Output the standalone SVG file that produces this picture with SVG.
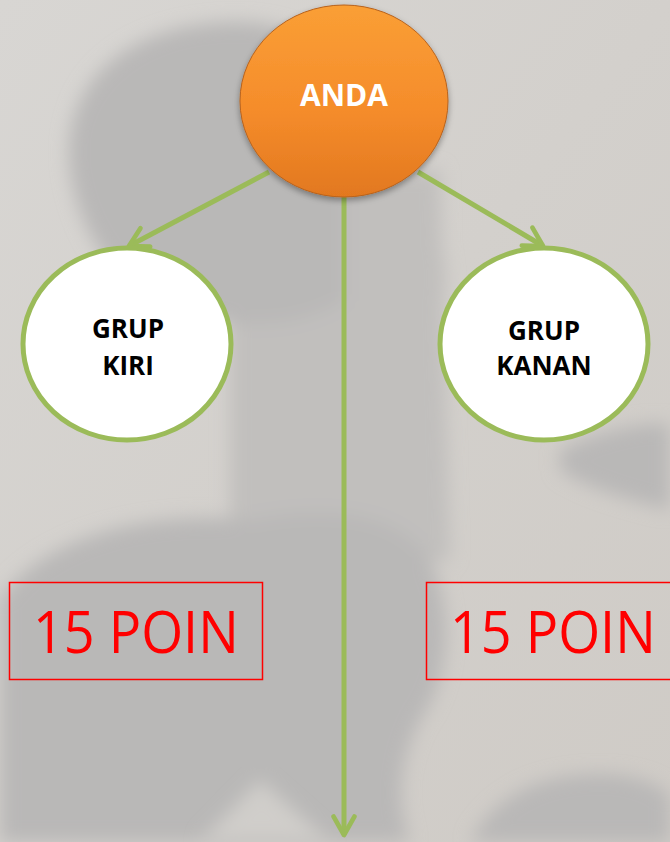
<svg xmlns="http://www.w3.org/2000/svg" width="670" height="842" viewBox="0 0 670 842">
  <defs>
    <linearGradient id="bg" x1="0" y1="0" x2="1" y2="1">
      <stop offset="0" stop-color="#d8d6d3"/>
      <stop offset="0.5" stop-color="#d3d0cc"/>
      <stop offset="1" stop-color="#cfcbc6"/>
    </linearGradient>
    <linearGradient id="orange" x1="0" y1="0" x2="0" y2="1">
      <stop offset="0" stop-color="#fa9f35"/>
      <stop offset="0.55" stop-color="#f58c2b"/>
      <stop offset="1" stop-color="#e2781f"/>
    </linearGradient>
    <filter id="blur" x="-20%" y="-20%" width="140%" height="140%">
      <feGaussianBlur stdDeviation="9"/>
    </filter>
    <filter id="shadow" x="-20%" y="-20%" width="140%" height="140%">
      <feDropShadow dx="0" dy="3" stdDeviation="3" flood-color="#000" flood-opacity="0.35"/>
    </filter>
    <marker id="arrow" viewBox="0 0 10 10" refX="8.6" refY="5" markerWidth="5.2" markerHeight="5.2" orient="auto" markerUnits="strokeWidth">
      <path d="M1.5,1 L8.6,5 L1.5,9" fill="none" stroke="#9bbb59" stroke-width="1.8" stroke-linecap="round" stroke-linejoin="round"/>
    </marker>
    <style>
      .conn { stroke: #9bbb59; stroke-width: 5; fill: none; marker-end: url(#arrow); }
      .grp { fill: #ffffff; stroke: #9bbb59; stroke-width: 5; }
      .grptext { font-family: "Open Sans", "Liberation Sans", sans-serif; font-weight: bold; font-size: 26px; fill: #000000; text-anchor: middle; }
      .box { fill: none; stroke: #ff0000; stroke-width: 1.5; }
      .poin { font-family: "Open Sans", "Liberation Sans", sans-serif; font-size: 58px; fill: #ff0000; }
      .sil { fill: #b9b8b7; }
      .mid { fill: #c1bfbd; }
    </style>
  </defs>

  <!-- background photo approximation -->
  <rect x="0" y="0" width="670" height="842" fill="url(#bg)"/>
  <g filter="url(#blur)">
    <path class="mid" d="M230,180 L440,170 L450,560 L230,560 Z"/>
    <path class="sil" d="M70,170 C60,80 130,25 230,22 C300,20 340,50 345,110 L345,300 C300,330 230,330 180,310 C120,290 80,240 70,170 Z"/>
    <path class="mid" d="M380,200 C420,190 450,230 445,290 C440,350 420,400 440,430 L380,430 Z"/>
    <path class="sil" d="M0,600 C40,540 140,510 250,520 C320,505 400,510 430,560 C455,610 450,680 420,720 C400,760 395,800 410,842 L0,842 Z"/>
    <path class="sil" d="M560,450 C600,430 650,420 670,425 L670,510 C630,500 590,490 560,470 Z"/>
    <path class="sil" d="M470,842 C500,785 560,770 620,775 C650,780 670,790 670,800 L670,842 Z"/>
  </g>
  <path d="M200,842 L260,780 L330,842 Z" fill="#d0ceca" filter="url(#blur)"/>

  <!-- connectors -->
  <g id="connectors">
    <line class="conn" x1="269" y1="172" x2="129" y2="246"/>
    <line class="conn" x1="418" y1="172" x2="543" y2="246"/>
    <line class="conn" x1="344" y1="196" x2="344" y2="835"/>
  </g>

  <!-- ANDA node -->
  <g id="node-anda">
    <ellipse cx="344" cy="101" rx="104" ry="96" fill="url(#orange)" stroke="#b8621c" stroke-width="1" filter="url(#shadow)"/>
    <text x="344" y="106" font-family="'Open Sans', 'Liberation Sans', sans-serif" font-weight="bold" font-size="30" fill="#ffffff" text-anchor="middle">ANDA</text>
  </g>

  <!-- GRUP KIRI -->
  <g id="node-kiri">
    <ellipse class="grp" cx="127" cy="344" rx="104" ry="96"/>
    <text class="grptext" x="128" y="338">GRUP</text>
    <text class="grptext" x="128" y="375">KIRI</text>
  </g>

  <!-- GRUP KANAN -->
  <g id="node-kanan">
    <ellipse class="grp" cx="544" cy="344" rx="104" ry="96"/>
    <text class="grptext" x="544" y="340">GRUP</text>
    <text class="grptext" x="544" y="375">KANAN</text>
  </g>

  <!-- 15 POIN left -->
  <g id="poin-kiri">
    <rect class="box" x="9.5" y="582.5" width="253" height="97"/>
    <text class="poin" transform="translate(33,653) scale(0.93,1)">15 POIN</text>
  </g>

  <!-- 15 POIN right -->
  <g id="poin-kanan">
    <rect class="box" x="426.5" y="582.5" width="260" height="97"/>
    <text class="poin" transform="translate(450,653) scale(0.93,1)">15 POIN</text>
  </g>
</svg>
